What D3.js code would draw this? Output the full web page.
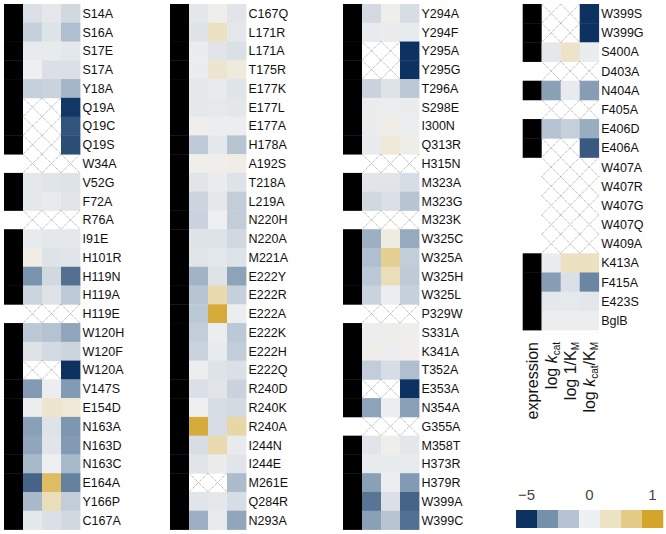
<!DOCTYPE html>
<html>
<head>
<meta charset="utf-8">
<script src="https://cdnjs.cloudflare.com/ajax/libs/d3/7.8.5/d3.min.js"></script>
<style>
  body { margin: 0; background: #fff; }
  svg { font-family: "Liberation Sans", Arial, Helvetica, sans-serif; }
</style>
</head>
<body>
<div id="chart"></div>
<script>
// mutant labels, one array per panel (read top to bottom)
var labels1 = ["S14A","S16A","S17E","S17A","Y18A","Q19A","Q19C","Q19S","W34A","V52G","F72A","R76A","I91E","H101R",
  "H119N","H119A","H119E","W120H","W120F","W120A","V147S","E154D","N163A","N163D","N163C","E164A","Y166P","C167A"];
var labels2 = ["C167Q","L171R","L171A","T175R","E177K","E177L","E177A","H178A","A192S","T218A","L219A","N220H","N220A","M221A",
  "E222Y","E222R","E222A","E222K","E222H","E222Q","R240D","R240K","R240A","I244N","I244E","M261E","Q284R","N293A"];
var labels3 = ["Y294A","Y294F","Y295A","Y295G","T296A","S298E","I300N","Q313R","H315N","M323A","M323G","M323K","W325C","W325A",
  "W325H","W325L","P329W","S331A","K341A","T352A","E353A","N354A","G355A","M358T","H373R","H379R","W399A","W399C"];
var labels4 = ["W399S","W399G","S400A","D403A","N404A","F405A","E406D","E406A","W407A","W407R","W407G","W407Q","W409A",
  "K413A","F415A","E423S","BglB"];

// expression (1 = expressed, 0 = not)
var expr1 = [1,1,1,1,1,1,1,1,0,1,1,0,1,1,1,1,0,1,1,1,1,1,1,1,1,1,1,1];
var expr2 = [1,1,1,1,1,1,1,1,1,1,1,1,1,1,1,1,1,1,1,1,1,1,1,1,1,1,1,1];
var expr3 = [1,1,1,1,1,1,1,1,0,1,1,0,1,1,1,1,0,1,1,1,1,1,0,1,1,1,1,1];
var expr4 = [1,1,1,0,1,0,1,1,0,0,0,0,0,1,1,1,1];

// log kcat (null = not measured)
var kcat1 = [-0.6,-1.2,-0.2,-0.05,-1.2,null,null,null,null,-0.3,-0.3,null,-0.2,0.08,
  -3.2,-1.0,null,-1.5,-0.5,null,-3.0,-0.1,-2.8,-2.6,-2.0,-4.1,-2.0,-0.3];
var kcat2 = [-0.35,-0.5,-0.15,-0.15,-0.3,-0.3,0.05,-1.4,0.05,-0.4,-1.0,-1.1,-0.5,-0.4,
  -2.2,-1.6,-1.5,-1.3,-1.1,-0.1,-0.6,-0.05,0.95,-0.7,-0.4,null,-0.4,-2.3];
var kcat3 = [-0.8,-0.2,null,null,-1.1,-0.15,-0.15,-0.2,null,-0.4,-0.9,null,-2.3,-1.8,
  -1.5,-1.1,null,-0.1,0.07,-1.3,null,-2.7,null,-0.4,-0.2,-2.8,-3.8,-2.8];
var kcat4 = [null,null,-0.3,null,-2.8,null,-1.7,null,null,null,null,null,null,-0.15,-2.9,-0.3,-0.1];

// log 1/KM
var invKm1 = [-0.3,-0.5,-0.2,-0.6,-1.1,null,null,null,null,-0.4,-0.2,null,-0.3,-0.5,
  -0.9,-0.5,null,-1.7,-0.8,null,-0.1,0.25,-0.5,-0.4,-0.05,0.8,0.4,-0.6];
var invKm2 = [0.05,0.35,-0.4,0.25,-0.2,-0.25,-0.1,-0.3,0.05,-0.15,-0.3,-0.05,-0.5,-0.3,
  -0.5,0.45,0.95,-0.1,-0.2,-0.5,-0.4,-0.7,-0.7,0.45,-0.15,null,-0.3,-0.2];
var invKm3 = [0.05,-0.15,null,null,-0.5,-0.1,0.08,0.2,null,-0.4,-0.6,null,0.12,0.6,
  0.4,-0.1,null,0.06,-0.1,-0.7,null,-0.1,null,0.05,-0.2,-0.1,-0.6,-1.6];
var invKm4 = [null,null,0.3,null,-0.2,null,-1.2,null,null,null,null,null,null,0.35,-0.6,-0.25,-0.1];

// log kcat/KM
var eff1 = [-0.9,-1.8,-0.3,-0.6,-2.1,-4.9,-4.4,-4.5,null,-0.5,-0.4,null,-0.3,-0.4,
  -3.9,-1.4,null,-2.6,-1.0,-5,-3.0,0.2,-3.1,-3.0,-2.0,-3.6,-1.3,-0.9];
var eff2 = [-0.4,-0.3,-0.6,0.15,-0.45,-0.35,-0.1,-1.6,0.08,-0.5,-1.3,-1.3,-0.9,-0.5,
  -2.7,-1.2,-0.1,-1.5,-1.3,-0.6,-1.1,-0.8,0.5,-0.2,-0.4,-1.9,-0.7,-2.6];
var eff3 = [-0.7,-0.2,-5,-5,-1.5,-0.15,-0.1,0.07,null,-0.7,-1.6,null,-2.5,-1.3,
  -1.4,-1.2,null,0.05,0.05,-1.8,-5,-2.8,null,-0.35,-0.2,-3.0,-4.1,-3.9];
var eff4 = [-5,-5,-0.15,null,-2.9,null,-2.4,-4.3,null,null,null,null,null,0.35,-3.5,-0.35,-0.1];

// colour bar
var legendStops = [-5, -3.333, -1.667, 0, 0.333, 0.667, 1];
var legendColors = ["#0d3160","#7590ab","#b5c3d2","#eff0f1","#ede2c4","#e3cb87","#d5a52b"];
var legendTicks = [{i: 0, text: "\u22125"}, {i: 3, text: "0"}, {i: 6, text: "1"}];

var columns = ["expression","kcat","invKm","eff"];

var width = 666, height = 534;
var cellW = 19;

var color = d3.scaleLinear().domain(legendStops).range(legendColors).clamp(true);

var panels = [
  {labels: labels1, expr: expr1, kcat: kcat1, invKm: invKm1, eff: eff1, left: 4,     bottom: 529.5},
  {labels: labels2, expr: expr2, kcat: kcat2, invKm: invKm2, eff: eff2, left: 170,   bottom: 529.5},
  {labels: labels3, expr: expr3, kcat: kcat3, invKm: invKm3, eff: eff3, left: 343,   bottom: 529.5},
  {labels: labels4, expr: expr4, kcat: kcat4, invKm: invKm4, eff: eff4, left: 522.7, bottom: 330}
];

var svg = d3.select("#chart").append("svg")
  .attr("width", width)
  .attr("height", height);

var x = d3.scaleBand().domain(columns).range([0, cellW * columns.length]);

panels.forEach(function(p) {
  var y = d3.scaleBand().domain(p.labels).range([4, p.bottom]);

  var g = svg.append("g").attr("transform", "translate(" + p.left + ",0)");

  //build one record per row
  var rows = p.labels.map(function(name, i) {
    return {name: name, expr: p.expr[i], vals: [p.kcat[i], p.invKm[i], p.eff[i]]};
  });

  //expression column, black where expressed
  g.selectAll(".expr")
    .data(rows.filter(function(d) { return d.expr === 1; }))
    .enter().append("rect")
    .attr("x", x("expression"))
    .attr("y", function(d) { return y(d.name); })
    .attr("width", x.bandwidth())
    .attr("height", y.bandwidth() + 0.4)
    .attr("fill", "#000");

  //flatten values into cells
  var cells = [];
  rows.forEach(function(r) {
    r.vals.forEach(function(v, j) {
      cells.push({name: r.name, col: columns[j + 1], v: v});
    });
  });

  g.selectAll(".cell")
    .data(cells.filter(function(d) { return d.v !== null; }))
    .enter().append("rect")
    .attr("x", function(d) { return x(d.col); })
    .attr("y", function(d) { return y(d.name); })
    .attr("width", x.bandwidth() + 0.4)
    .attr("height", y.bandwidth() + 0.4)
    .attr("fill", function(d) { return color(d.v); });

  //missing values get a dotted cross
  var missing = cells.filter(function(d) { return d.v === null; });
  var crosses = g.selectAll(".na")
    .data(missing)
    .enter().append("g")
    .attr("transform", function(d) { return "translate(" + x(d.col) + "," + y(d.name) + ")"; });
  crosses.append("path")
    .attr("d", "M0,0L" + x.bandwidth() + "," + y.bandwidth() + "M" + x.bandwidth() + ",0L0," + y.bandwidth())
    .attr("stroke", "#888")
    .attr("stroke-width", 0.8)
    .attr("stroke-dasharray", "1,1")
    .attr("fill", "none");

  //row labels
  g.selectAll(".lbl")
    .data(rows)
    .enter().append("text")
    .attr("x", x.range()[1] + 2.5)
    .attr("y", function(d) { return y(d.name) + y.bandwidth() / 2; })
    .attr("dy", "0.36em")
    .attr("font-size", "12.5px")
    .attr("fill", "#111")
    .text(function(d) { return d.name; });

  //column titles only under the last panel
  if (p === panels[3]) {
    var top = p.bottom + 12;
    var titles = g.selectAll(".title")
      .data(columns)
      .enter().append("text")
      .attr("transform", function(d) {
        return "translate(" + (x(d) + x.bandwidth() / 2) + "," + top + ") rotate(-90)";
      })
      .attr("text-anchor", "end")
      .attr("dy", "0.36em")
      .attr("font-size", "16px")
      .attr("fill", "#111");

    titles.each(function(d) {
      var t = d3.select(this);
      if (d === "expression") {
        t.text("expression");
        return;
      }
      t.append("tspan").text("log ");
      if (d === "invKm") {
        t.append("tspan").text("1/K");
        t.append("tspan").attr("font-size", "10px").attr("dy", 3).text("M");
        return;
      }
      t.append("tspan").attr("font-style", "italic").text("k");
      t.append("tspan").attr("font-size", "10px").attr("dy", 3).text("cat");
      if (d === "eff") {
        t.append("tspan").attr("dy", -3).text("/K");
        t.append("tspan").attr("font-size", "10px").attr("dy", 3).text("M");
      }
    });
  }
});

//colour bar legend
var lx = d3.scaleBand().domain(d3.range(legendColors.length)).range([516, 663]);
var legend = svg.append("g");

legend.selectAll("rect")
  .data(legendColors)
  .enter().append("rect")
  .attr("x", function(d, i) { return lx(i); })
  .attr("y", 510)
  .attr("width", lx.bandwidth() + 0.3)
  .attr("height", 18)
  .attr("fill", function(d) { return d; });

legend.selectAll("text")
  .data(legendTicks)
  .enter().append("text")
  .attr("x", function(d) { return lx(d.i) + lx.bandwidth() / 2; })
  .attr("y", 500)
  .attr("text-anchor", "middle")
  .attr("font-size", "15px")
  .attr("fill", "#444")
  .text(function(d) { return d.text; });
</script>
</body>
</html>
